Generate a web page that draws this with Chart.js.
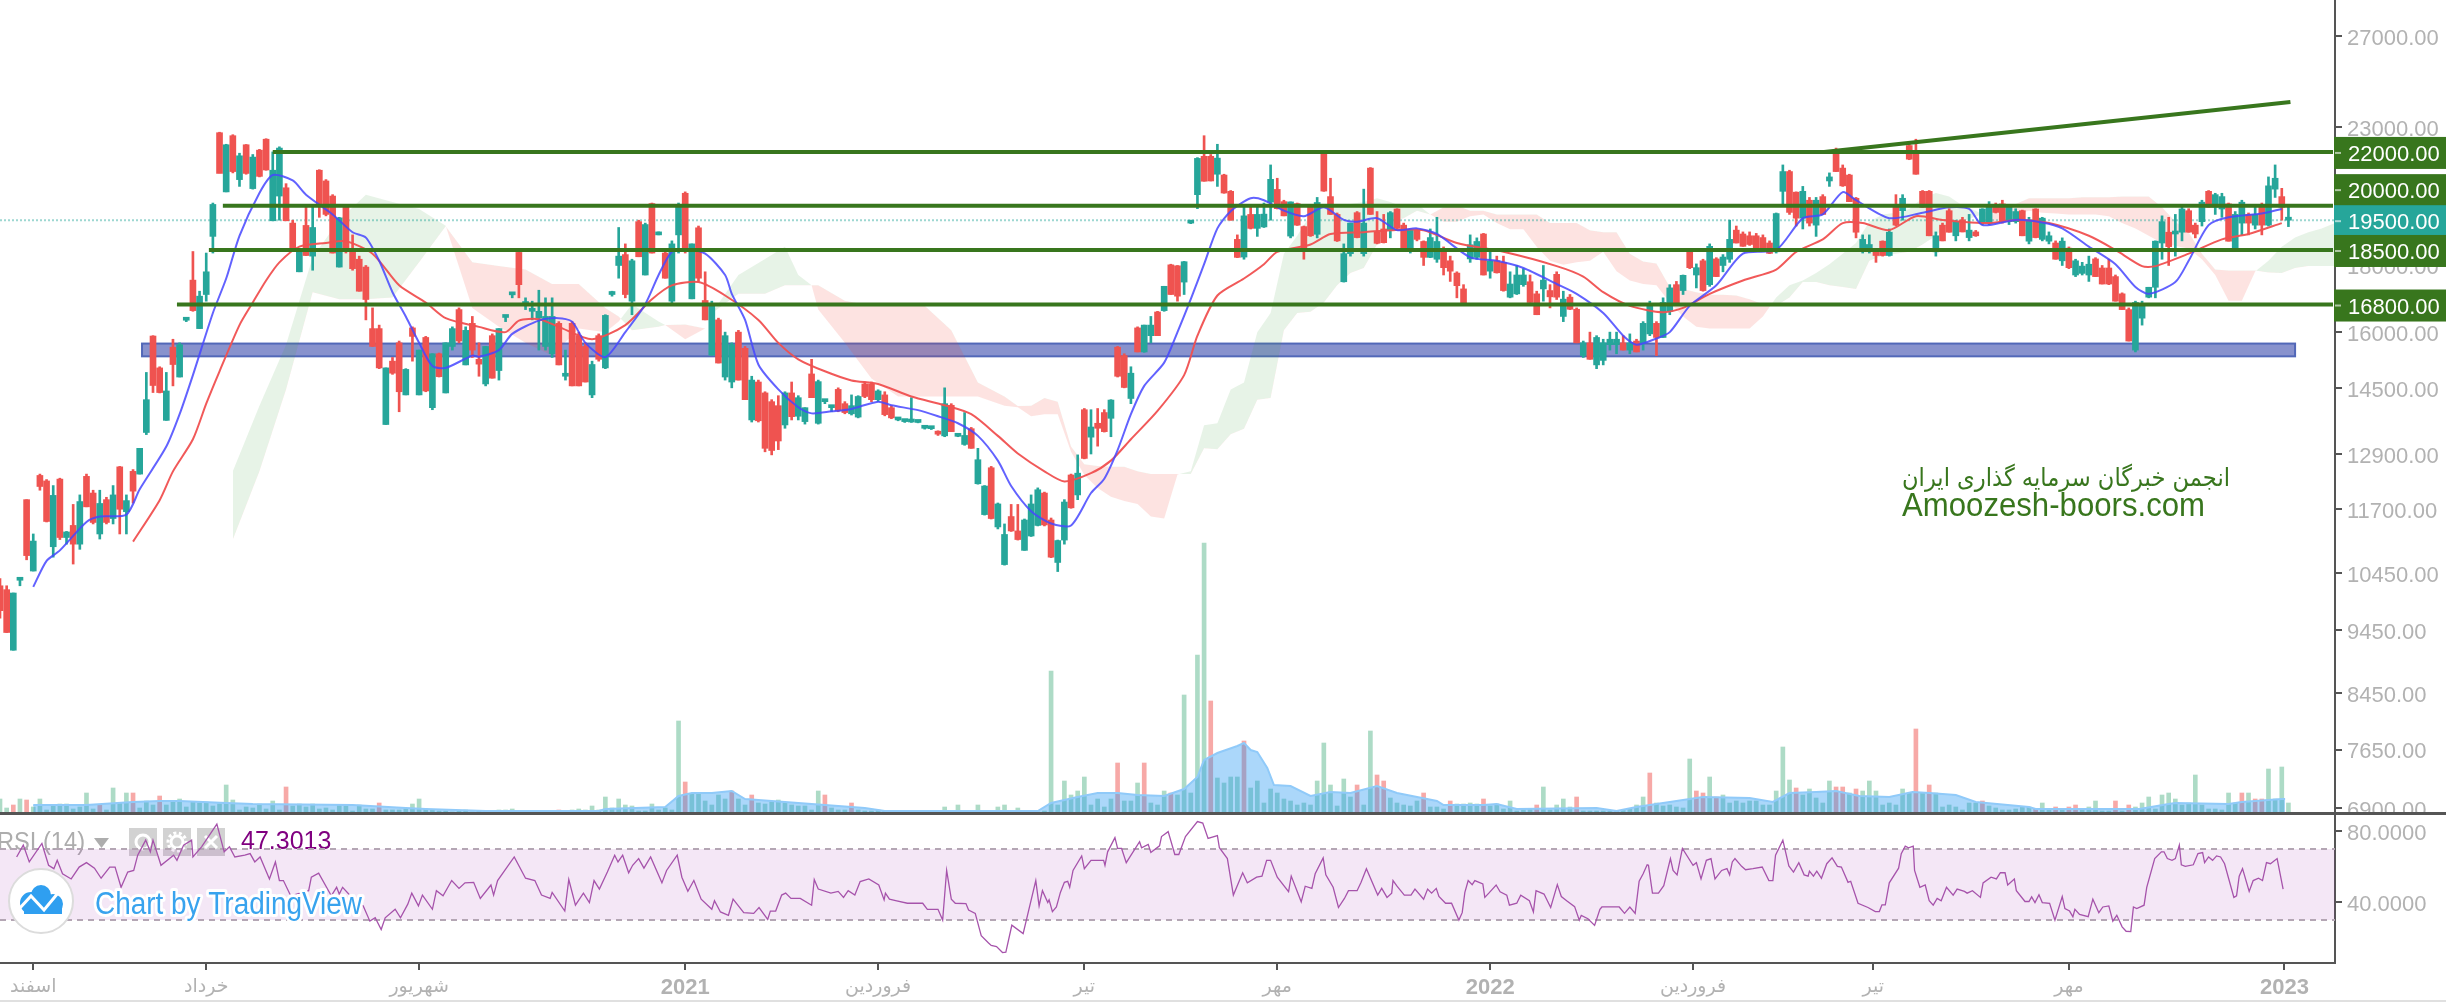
<!DOCTYPE html>
<html>
<head>
<meta charset="utf-8">
<style>
  html, body { margin: 0; padding: 0; background: #fff; overflow: hidden; }
  #wrap { width: 2446px; height: 1002px; position: relative; }
  canvas { display: block; }
</style>
<script src="https://cdn.jsdelivr.net/npm/chart.js@4"></script>
</head>
<body>
<div id="wrap"><canvas id="chart" width="2446" height="1002"></canvas></div>
<script>
// open, high, low, close per bar
const candles = [
[10220,10350,9650,9780],[10150,10220,9410,9410],[9120,10090,9120,10090],[10320,10360,10220,10360],[11900,11900,10700,10780],
[10490,11200,10490,11060],[12420,12450,12100,12180],[12300,12330,11440,11450],[10950,12200,10750,11990],[12340,12360,11090,11130],
[11130,11250,11000,11240],[11370,11800,10620,11000],[11000,12000,10900,11860],[12400,12450,11750,11750],[12040,12100,11400,11430],
[11200,12100,11100,11820],[11900,11950,11400,11430],[11510,12200,11400,12000],[12610,12620,11200,11700],[11650,12000,11200,11880],
[12510,12550,11830,12080],[12450,13030,12450,13030],[13400,14900,13350,14200],[15890,15900,14380,14560],[15020,15050,14370,14380],
[13690,14900,13690,14420],[15580,15800,14550,15110],[14780,15700,14780,15650],[16340,16380,16300,16380],[17540,18450,16600,16620],
[16100,17200,16100,17050],[17100,18400,16900,17800],[18950,20100,18400,20050],[22760,22780,21200,21180],[20500,22300,20500,22280],
[22640,22680,21200,21250],[20950,21950,20700,21850],[22280,22290,21150,21180],[20620,21900,20600,21800],[22070,22100,21050,21070],
[22500,22520,21300,21310],[19480,22000,19480,21300],[20350,22200,19500,22150],[20650,20800,19480,19480],[19400,19500,18500,18530],
[17800,18550,17800,18550],[19320,20000,18320,18320],[18300,20000,17850,19250],[21300,21320,19600,20050],[20900,20950,19650,19700],
[20350,20400,18400,18400],[17950,19600,17950,19580],[19950,20000,18400,18500],[18550,19000,17850,17900],[18200,18300,17200,17200],
[17950,18000,16350,16950],[16100,16700,15600,15600],[16100,16200,15000,15020],[13590,15020,13590,15020],[15200,15300,14850,14880],
[15700,15750,13900,14400],[14320,15000,14320,14980],[16120,16150,15200,15880],[14320,15500,14320,15500],[15850,15880,14400,14420],
[14000,15400,13950,15400],[15400,15420,14780,14790],[14370,15700,14370,15700],[15600,16150,15500,16100],[16650,16700,15700,15750],
[15100,16150,15100,16050],[16250,16450,15300,15500],[15250,15700,14800,15120],[14600,15600,14550,15600],[15900,15950,14750,14750],
[14950,16100,14700,16100],[16420,16460,16300,16460],[17090,17100,17000,17100],[18420,18500,17000,17400],[16800,17000,16650,16850],
[16600,16900,16350,16650],[16400,17230,15500,16600],[15600,17000,15500,16450],[15400,17000,15300,16450],[16250,16300,15100,15100],
[14800,15500,14700,14850],[16250,16300,14550,14550],[15900,16000,14550,14550],[15600,15700,14650,14650],[14320,15200,14250,15110],
[15900,15950,15200,15250],[15020,16500,15000,16480],[17100,17200,17050,17150],[18000,19250,17600,18300],[18350,18700,17000,17100],
[16900,18200,16500,18150],[19450,19500,18280,18280],[17700,19400,17700,19350],[20080,20100,18400,18400],[19000,19100,19000,19050],
[18400,18500,17600,17600],[16900,18800,16850,18700],[19000,20100,18400,20000],[20450,20500,18400,18500],[16970,18700,16970,18700],
[19240,19300,17500,17600],[16920,17800,16350,16350],[15360,16900,15360,16780],[16350,16400,15150,15150],[14780,16000,14700,15900],
[14650,15700,14500,15650],[16000,16050,14700,14700],[15550,15600,14200,14200],[13700,14800,13650,14700],[14650,14700,13650,13680],
[14370,14400,12950,13030],[14150,14200,12880,12980],[14050,14300,13000,13200],[13580,14400,13500,14370],[14370,14650,13700,13780],
[13790,14300,13700,14250],[13660,14000,13600,14000],[14860,15250,14250,14250],[13620,14700,13600,14660],[14150,14200,14100,14180],
[14000,14060,13900,14050],[14460,14500,13900,13930],[14100,14150,13850,13880],[13850,14320,13820,14050],[13770,14300,13750,14280],
[14600,14650,14250,14280],[14600,14650,14150,14200],[14200,14450,14150,14420],[14320,14400,13800,13830],[14000,14050,13730,13750],
[13700,13750,13680,13730],[13660,13700,13640,13690],[13650,14250,13640,13680],[13640,13680,13630,13670],[13500,13530,13480,13520],
[13490,13520,13470,13510],[13400,13440,13330,13360],[13320,14500,13300,14100],[14060,14100,13420,13420],[13310,13350,13300,13340],
[13120,13880,13100,13330],[13490,13520,13030,13030],[12240,13030,12230,12770],[11590,12200,11580,12190],[12590,12620,11500,11510],
[11340,11830,11300,11810],[10610,11400,10600,11190],[11550,11800,11250,11260],[11260,11800,11080,11090],[10880,11500,10880,11480],
[11160,12000,11150,11810],[11370,12150,11360,12110],[12040,12060,11360,11380],[11480,11520,10740,10750],[10650,11080,10480,11070],
[11080,11900,11000,11850],[12430,12450,11720,11730],[12000,12880,11900,12470],[13950,13980,12790,12800],[13290,13950,12900,13530],
[13620,13980,13080,13500],[13880,13950,13410,13420],[13740,14200,13300,14190],[15580,15600,14780,14800],[15350,15400,14500,14510],
[14230,15050,14100,14880],[16120,16150,15450,15450],[15450,16200,15440,16200],[15900,16450,15700,16200],[16580,16600,15900,15900],
[16620,17350,16600,17350],[18020,18040,17100,17100],[17990,18000,16900,17050],[17480,18130,17100,18120],[19400,19480,19380,19450],
[20400,21780,19900,21750],[21830,22640,20890,20890],[21830,21900,20900,20900],[21150,22300,20700,21760],[21120,21150,20450,20460],
[20520,20550,19500,19500],[18850,19000,18250,18260],[18270,20000,18200,19650],[19700,19950,19200,19220],[19220,20000,18950,19700],
[19270,20100,19250,19710],[20130,21500,19500,20960],[20590,21000,19890,19900],[20150,20200,19650,19650],[18960,20140,18900,20140],
[20080,20100,19320,19330],[19280,19300,18200,18450],[19950,20000,18950,18970],[19020,20300,18900,20120],[22000,22050,20520,20530],
[20330,21000,19700,19700],[19700,19750,18780,18800],[17490,18700,17480,18380],[18380,19400,18300,19400],[19760,19800,18900,18910],
[18380,20600,18300,19400],[21380,21400,19700,19700],[19100,19800,18700,18720],[19200,19700,18730,18740],[19150,19800,18900,19760],
[19890,19900,19200,19220],[19330,19400,18550,18560],[18500,19200,18400,19160],[19160,19200,18800,18850],[18780,18800,18000,18260],
[18260,19200,18250,18910],[18200,19600,18100,18780],[18500,18600,17700,17930],[18150,18300,17500,17820],[17760,17800,17000,17370],
[17270,17400,16830,16840],[18210,19000,18100,18670],[18260,18900,18200,18780],[19030,19050,17700,17700],[17820,18450,17600,18150],
[18150,18300,17760,17770],[18100,18300,17200,17220],[17020,17800,17000,17420],[17120,18000,17100,17700],[17400,17900,17350,17700],
[17490,17700,16860,16860],[17120,17200,16500,16500],[17270,18000,16900,17540],[17220,17400,16700,17030],[17720,17800,16950,17020],
[16450,17200,16300,16960],[17020,17100,16650,16660],[16660,16700,15700,15700],[15350,15750,15300,15700],[15700,16000,15250,15250],
[15100,15900,15000,15850],[15220,15800,15100,15700],[15650,16000,15500,15800],[15650,16000,15400,15800],[15700,15900,15500,15500],
[15500,15950,15400,15700],[15750,15800,15450,15450],[15700,16300,15500,16250],[15950,16900,15900,16800],[16250,16300,15350,15850],
[15850,17000,15850,16860],[16600,17400,16500,17300],[17400,17500,16800,16800],[17220,17700,17100,17690],[18520,18550,17900,17930],
[17700,18050,17300,17930],[18150,18200,17200,17220],[17400,18700,17350,18620],[18210,18250,17650,17650],[18000,18350,17800,18270],
[18200,19500,18100,18850],[19160,19300,18730,18730],[19030,19100,18620,18620],[18970,19100,18650,18680],[18970,19050,18500,18500],
[18910,19000,18550,18560],[18730,18800,18380,18390],[18440,19750,18400,19730],[20520,21500,20000,21250],[21250,21300,19700,19770],
[20490,20500,19300,19570],[19570,20700,19200,20520],[20200,20300,19300,19400],[19330,20300,18950,20200],[20330,20400,19700,19700],
[20900,21200,20700,21050],[22090,22150,21250,21250],[21380,21500,20700,20720],[21120,21150,20150,20150],[20270,20300,18900,19090],
[18500,19000,18400,18850],[18450,19000,18400,18680],[18440,18500,18100,18320],[18790,18800,18300,18320],[18320,19200,18300,19090],
[20010,20400,19300,19330],[19830,20400,19500,20270],[22250,22350,21700,21720],[22000,22500,21150,21150],[20520,20550,19950,19950],
[20520,20550,18970,18970],[18440,19100,18300,18970],[19330,19400,18800,18800],[19830,19900,19090,19090],[18970,19500,18800,19450],
[19510,19600,19100,19100],[18910,19700,18800,19160],[19100,19150,18950,18970],[19400,19900,19350,19890],[19400,20150,19350,20010],
[20010,20100,19750,19770],[20070,20200,19400,19450],[19450,20000,19350,19950],[19450,19900,19400,19800],[19830,19850,18970,18970],
[18790,19600,18700,19510],[19890,19900,18900,18910],[18850,19600,18800,19570],[18790,19100,18700,18970],[18730,18800,18200,18200],
[18150,18900,18000,18790],[18560,18600,17900,17930],[17700,18200,17650,18150],[17750,18100,17700,17980],[17700,18300,17500,18040],
[18210,18250,17650,17650],[17920,18000,17420,17420],[17920,18200,17400,17420],[17650,17700,16900,16900],[17120,17150,16650,16650],
[16650,16700,15750,15750],[15500,16900,15450,16860],[16400,16900,16200,16760],[17020,17320,17000,17320],[17320,18800,17000,18790],
[18730,19650,18200,19450],[19090,19600,18000,18610],[19030,19700,18300,19090],[19090,20000,18800,19890],[19830,19900,19090,19090],
[19330,19400,18900,19030],[19450,20200,19300,20130],[20520,20550,19950,19950],[19950,20450,19700,20400],[19890,20450,19600,20330],
[20070,20100,18790,18790],[18560,19800,18500,19700],[19400,20200,19000,20130],[19700,19750,19000,19400],[19330,20000,19200,19700],
[20010,20100,19000,19330],[19330,21050,19300,20720],[20600,21500,20300,21000],[20330,20630,19500,19950],[19500,19950,19280,19520]
];

const volumes = [14,5,8,14,13,6,14,3,7,9,9,4,6,20,4,8,3,25,10,20,20,5,12,8,17,8,12,14,6,11,10,11,7,9,28,13,3,6,5,9,4,12,3,26,7,9,6,9,4,5,3,8,7,2,8,4,4,10,3,3,3,4,9,14,4,3,2,2,1,2,3,1,2,1,2,3,3,4,2,1,1,1,1,1,3,1,3,4,3,7,3,16,5,14,8,7,2,2,9,3,5,3,92,31,19,20,12,8,18,14,22,14,8,18,10,9,11,13,10,8,7,7,3,22,18,5,3,3,10,3,2,2,3,2,1,2,1,1,1,1,1,1,6,1,8,1,1,8,2,1,6,8,1,5,1,1,1,2,142,8,32,18,22,36,8,14,6,14,50,12,12,30,50,10,8,22,20,18,118,20,158,270,112,35,30,36,36,72,25,32,10,24,20,14,12,8,10,8,32,70,28,7,34,16,28,8,82,38,32,15,10,8,7,12,20,6,6,4,12,9,9,10,9,14,7,9,4,12,2,3,4,8,26,3,8,14,6,16,2,2,2,2,2,2,3,4,8,16,40,10,7,8,6,5,54,22,20,36,16,18,10,12,10,12,12,8,8,22,66,33,25,18,24,15,10,32,26,26,20,24,22,32,22,8,10,8,24,20,84,20,28,20,6,8,6,3,10,10,12,7,5,3,3,4,6,6,4,10,3,6,3,6,8,3,6,12,2,2,12,2,8,6,10,16,4,18,20,14,8,10,38,8,4,4,3,20,10,20,20,14,14,44,14,46,10];
const volumeRedBars = [2,4,15,20,24,43,57,84,103,110,113,124,128,168,172,176,182,187,204,207,208,214,218,223,231,237,248,255,256,258,270,276,277,279,288,290,298,306,309,311,312,318,320,337,339,340];
const volumeAvgPos = [5,13,20,24,27,34,38,53,61,64,73,90,91,100,102,104,107,110,112,120,124,130,133,156,158,162,165,168,171,175,178,180,181,183,186,187,188,189,190.5,191.5,194,197,200,203,207,210,216,217,223,225,228,240,243,246,249,253,256,263,266.5,269,273,276,279.5,284,287.5,290,294,297,305,306,321.6,326,327,335,337,343,343.5];
const volumeAvg = [8,8,11,12,12,10,9,8,5,4,2,2,4,6,17,20,20,22,14,10,8,5,2,2,10,16,20,20,18,17,24,36,53,60,67,70,63,61,45,28,27,17,21,20,27,20,12,8,8,9,4,5,2,6,9,13,16,15,11,20,21,22,17,16,21,20,18,11,6,4,4,9,10,9,11,14,14];

const maFastPos = [5,7,9,13,15,19,21,25,27,29,32,34,36,39,41,44,46,50,53,55,57,59,61,63,65,67,71,72,75,77,81,84,86,88,91,94,97,99,101,103,106,109,110,112,114,117,120,122,125,128,132,134,138,141,144,147,150,152,155,158,161,164,166,168,170,172,175,177,179,181,183,185,188,190,193,196,199,202,204,207,210,213,216,221,225,229,234,237,241,244,246,249,251,254,258,262,267,271,274,277,279,284,289,293,296,298,303,307,310,314,318,321,323,327,329,332,335,340,343];
const maFast = [10200,10680,10880,11440,11550,11590,12120,13070,13840,14830,16550,17590,18970,20460,21120,20920,20400,19700,19090,18910,18150,17170,16450,15700,15070,15020,15350,15320,15500,15950,16330,16400,16300,15700,15310,16000,16810,17700,18440,18520,18380,17700,17120,16350,15110,14460,14010,13860,13910,13970,14150,14060,13940,13790,13620,13320,12750,12190,11660,11410,11370,12040,12350,12990,13840,14550,15160,16000,16960,18040,19220,19810,20270,20200,19830,19640,19950,19510,19450,19570,19160,19220,19030,18260,18150,17920,17420,17120,16550,15900,15650,15820,16000,16760,17380,18380,18500,19570,19700,20490,20200,19570,19760,19950,19890,19330,19510,19420,19220,18610,18040,17330,17120,17480,18150,19330,19600,19730,19890];
const maSlowPos = [20,24,26,29,31,33,36,38,40,42,45,49,52,56,60,64,67,72,76,78,81,84,89,94,98,101,105,109,114,117,120,124,128,132,137,142,146,150,153,157,160,164,167,170,174,178,180,183,187,190,192,197,200,205,209,214,219,226,234,238,241,245,250,253,257,262,267,270,274,277,280,284,288,292,299,303,308,314,318,322,324,329,334,338,343];
const maSlow = [11050,11890,12510,13240,14100,14930,16200,16860,17530,18100,18610,18730,18790,18380,17380,16860,16400,16150,16000,16330,16370,16150,15800,16200,16960,17380,17480,17070,16350,15700,15250,14930,14690,14600,14280,14060,13840,13320,12910,12510,12290,12470,12750,13240,13920,14830,15900,17070,17590,18040,18440,18680,19030,19090,19160,19160,18730,18440,17980,17650,17170,16760,16570,16700,17120,17530,17870,18440,18850,19400,19400,19160,19640,19510,19400,19510,19400,18970,18500,17980,17980,18380,18850,19030,19400];

// Ichimoku cloud, green where spanA is above spanB
const cloudPos = [35,39,43,47,51,55,59,63,67,71,75,79,83,87,91,93,95,99,100,103,106,107,111,115,118,120,122,123,127,131,135,139,143,147,151,153,155,157,159,161,163,165,167,169,171,173,175,177,179,181,183,185,187,189,191,193,195,197,199,201,203,205,207,209,211,213,215,217,219,221,223,225,227,229,231,233,235,237,239,241,243,245,247,249,251,253,255,257,259,261,263,265,267,269,271,273,275,277,279,281,283,285,287,289,291,293,295,297,298,299,301,303,305,307,309,311,313,315,317,319,321,323,325,327,329,331,333,335,337,339,341,343,345,347,349,351];
const cloudSpanA = [12510,14050,15650,18260,19510,20400,20140,19890,19310,16700,16150,15700,15350,16100,16000,16300,16810,16300,16200,15800,16100,16550,17700,18210,18610,17700,17380,16650,15700,14740,14280,14280,14280,14280,14050,14010,13790,13840,13840,12950,12430,12150,11960,11870,11810,11550,11510,12440,12510,13570,13620,14460,14640,16000,16550,18380,18970,19700,20010,20070,20070,20140,20270,20140,19950,20070,19700,19450,19450,19640,19700,19400,19190,19190,18610,18150,18020,18100,18150,18440,17820,17530,17420,17380,16860,16450,16150,16100,16100,16100,16100,16450,17010,17380,17530,17760,18040,18380,18730,19450,19700,19760,19890,20270,20460,20330,20010,19830,19700,19330,19450,19700,19830,19760,19730,19700,19700,19700,19640,19400,19220,18970,18730,18630,18550,18200,17700,16910,16910,17810,18150,18610,18910,19090,19220,19400];
const cloudSpanB = [11090,12510,14460,17170,16960,16960,17010,18100,19290,18100,17980,17870,17420,17420,16700,16450,16050,16150,16200,16220,16100,16540,17120,17120,17380,17380,17380,17380,16910,16760,16760,16760,16050,14640,14280,14040,14050,14240,14150,13070,12670,12630,12610,12610,12510,12450,12450,12450,12450,13030,13010,13360,13490,14200,14240,16050,16550,16590,16860,17380,17760,17920,18680,19450,19570,19830,19700,19950,20010,19830,19830,19700,19700,19700,19700,19400,19400,19400,19160,19090,19090,18380,18130,18060,17330,17270,17170,17090,17090,17070,16960,16810,16760,17010,17480,17480,17380,17330,17270,18150,18320,18380,18440,18680,18970,19400,19450,19640,19700,19890,19950,20070,20270,20270,20270,20270,20310,20310,20310,20330,20330,20330,19950,19450,19090,18380,17870,17840,17840,17840,17780,17760,17920,17980,17980,17980];

const rsiPos = [2.5,3.5,4.4,6.3,7.3,8.1,8.6,9.4,10.7,11.9,13,14.2,15.2,16.5,17.3,18.2,19.2,20.1,20.7,21.9,22.6,23,24.2,26.1,26.6,27.6,28.8,29,30.3,32.6,33.7,34.5,35.3,36.8,37.6,38.3,39.1,40.5,41.4,42,42.6,43.7,46.4,46.8,47.9,49.8,50.6,51,51.5,52.9,54.6,55.6,56.4,57.3,57.9,59.4,60.2,61.3,61.9,62.9,63.5,65,65.6,66.6,67.9,69,69.9,71.2,72.2,73.8,74.2,74.8,77.3,79,80.4,81.4,82.7,83,84.9,85.5,86.5,87.7,88.6,89.3,90.1,91.3,92.4,92.9,93.6,94.5,95.1,96,96.8,97.8,99.5,100.2,101.8,102.5,103.4,104.3,105.4,107,107.4,108.3,109.5,110.2,111.8,113.3,114.1,115.4,115.8,116.6,117.5,118.1,118.9,120.3,122,122.4,123,124.9,126,126.8,127.5,128.5,129.3,130.6,132.1,132.9,133.1,133.7,134.8,136.4,138.7,139.4,141,141.7,142.3,143,143.6,145.2,145.6,146.6,147.5,148.6,149,149.8,150.7,151.2,152.1,153.8,155.7,156.2,156.7,157.5,157.7,158.2,158.8,159.4,160,160.5,160.8,161.3,162.6,163,164,165.9,166.1,166.5,167.6,168,168.6,169.3,171.3,171.6,172.6,173,174.3,174.6,175.6,176.6,177.2,178.2,180,180.8,181.6,183,183.3,184.5,185.4,186.8,187.5,188.9,189.7,190.4,191,192,193.7,194.1,195.6,196.2,197.2,197.7,198.9,199.3,200.4,201.2,202.1,202.7,204,204.6,205.4,207.1,207.7,208.5,209.2,209.4,210,211.1,212.1,212.7,214,214.6,215.2,215.9,216.3,217.3,218.2,219.3,219.8,220.2,220.7,221.3,221.7,222.9,223.2,223.8,224.9,225.5,226.5,226.9,228,228.6,229.9,230.5,230.9,232.1,233.1,234.1,234.7,235.5,236.7,237.4,237.7,238.7,239.7,240.5,240.8,243.4,244.2,245,245.8,246.4,247,247.6,247.8,248.4,249.3,250.1,251.1,251.5,252.1,252.9,254.5,255,255.7,256.5,257.2,257.8,258.8,259.6,260,260.4,260.8,261.8,262.4,263.5,264.9,265.9,266.5,266.9,268,268.9,269.6,270.4,271.2,271.8,272,272.6,273.1,273.8,274.6,275.4,276.2,276.8,277.8,278.2,279.3,280.8,281.9,282.5,282.9,283.4,284,285.4,285.8,286.4,286.9,287.6,287.8,288.6,289.4,290,290.6,291.2,291.8,292.6,293.6,294.2,295.3,295.7,296.5,297.7,298.1,299.3,300.1,300.7,301.4,301.8,302.8,303.1,304.4,305,305.4,305.9,306.5,307,308.1,308.9,310,310.4,311.1,311.6,311.9,312.6,313.9,314.6,315.5,316.1,317,317.6,318.2,319,319.6,320.3,320.7,321.2,322.3,322.7,323.9,324.9,325.3,325.8,326.5,327,327.6,327.9,328.5,329.7,330.4,331.1,331.4,332,332.6,333.2,333.8,334.4,335.8,336.2,336.6,337.1,338.1,338.7,339.5,340.1,340.7,341.3,342.3,343.2];
const rsiValues = [65.5,72.2,62.7,73.1,60.8,58.9,63.6,56,53.1,59.8,62.3,59.2,53.5,59.8,59.8,48.4,57,57.9,66.5,75,68.4,75,60.8,66.5,63.6,72.2,75,65.5,71.2,84,68.4,71.2,65.5,66.5,67.4,62.7,65.5,53.1,62.7,52.2,52.2,43.6,46.5,54.1,56.4,43.6,48.4,44.6,48.4,42.7,37.9,29.3,31.2,24.6,31.2,36,31.2,38.9,45.1,37.9,44,36,46.5,43.6,52.2,47.8,50.9,51.2,42.1,49.7,44,52.2,65.5,53.5,52.2,44,42.1,45.5,35,52.8,38.3,45.1,39.8,52.2,47.4,57,66.5,62.7,66.5,56.6,60.8,64.6,59.2,65.5,50.9,57.9,66.5,54.1,46.1,52.2,41.7,36,40.8,34.5,32.6,41.7,34.1,33.7,37,30.3,35,35,44,45.1,42.1,42.1,38.3,52.8,47.4,45.1,46.1,42.7,46.5,44,51.6,53.1,49.7,41.3,45.1,41.7,40.8,39.4,39.4,36,36,29.9,57.9,41.7,39.4,39.2,35.6,33.7,21.1,17,15.6,15,11.6,11.8,27,22.3,52.2,37.9,46.5,39.8,41.3,34.7,37.3,45.5,51.2,51.8,48.4,57.9,66.1,58.9,63.6,63.6,60.8,68.4,76.4,70.3,70.3,62.3,74.1,70.7,72.6,68,71.8,77,79.8,66.9,66.9,77,85.5,84.6,76,77.5,70.7,64.6,44,56.6,50.9,54.1,54.7,63.6,63.6,54.1,45.9,54.7,40.2,49,47.8,56,65,55.4,48.4,37,42.1,46.5,46.5,51.2,58.9,44,47.8,42.7,45.1,52.2,49,44,44,47.4,41.7,47.4,45.1,47.8,43.2,39.4,39.4,29.9,34.1,45.5,52.2,49.9,52.2,50.3,42.7,45.1,49.7,45.9,44,38.3,39.4,44,40.8,34.5,46.5,44.6,37,49.9,43.2,40.8,37.5,29.9,32.6,30.7,26.9,36,37.3,37.3,33.7,37.3,33.7,51.8,56,61.1,60.8,45.1,45.1,49.3,64.6,57.9,55.4,70.3,60.8,62.3,53.1,63.6,64.6,53.1,57.9,58.9,55.4,62.7,64.6,60.2,58.3,58.9,59.8,52.2,52.2,66.5,75,60.4,57,62.3,55.4,54.7,57.5,54.7,57.5,53.5,61.7,65,60.2,59.8,51.2,51.8,39.4,37,34.7,34.7,38.5,38.5,50.9,59.2,67.4,71.6,70.7,71.6,57.9,48.4,49.7,40.8,38.3,42.1,40.8,48.4,44,47.4,46.1,45.1,46.5,42.7,50.9,54.1,53.1,56.6,56.6,49.7,53.1,46.5,40.4,40.4,43,39.8,44.2,39.8,39.4,29.9,43.2,36.4,35,31.8,36,33.1,31.8,41.7,34.1,37.3,37.9,29.3,32.6,26.1,23.6,23.4,37.3,36.4,38.3,48.4,64.6,68.4,68.4,64.6,63.6,64.6,72.2,61.1,60.2,61.1,67.4,68,62.3,65.5,63.6,66.1,65.5,61.7,42.7,43.6,54.7,58.9,46.1,52.2,53.5,52.2,62.3,61.7,64.6,47.3];

const priceTicks = [27000,23000,18000,16000,14500,12900,11700,10450,9450,8450,7650,6900];
const rsiTicks = [80,40];
const xTickPos = [5,31,63,103,132,163,192,224,254.5,281.6,311,343.4];
const xTickLabels = ['اسفند','خرداد','شهریور','2021','فروردین','تیر','مهر','2022','فروردین','تیر','مهر','2023'];

const levelPrices = [22000,20000,18500,16800];
const levelStarts = [41,33.5,31.4,26.6];
const levelEnd = 350.7;
const boxLabels = ['22000.00','20000.00','19500.00','18500.00','16800.00'];
const boxPrices = [22000,20600,19500,18500,16800];
const lastPrice = 19500;
const trendPos = [274.2,344.3];
const trendPrices = [22000,24030];
const zonePrices = [15330,15680];
const zonePos = [21.35,345];
const lastIndex = 351;

const GREEN = '#38761d';
const TEAL = '#26a69a';
const RED = '#ef5350';
const GREY = '#b2b2b2';
const FONT = '"Liberation Sans", Arial, "DejaVu Sans", sans-serif';

function pairs(xs, ys) {
  return xs.map((x, i) => ({ x: x, y: ys[i] }));
}

function lineSet(data, color, width, extra) {
  return Object.assign({
    type: 'line', data: data, borderColor: color, borderWidth: width,
    pointRadius: 0, fill: false, tension: 0, yAxisID: 'y', xAxisID: 'x'
  }, extra || {});
}

// stop the outer tick labels from pushing the plot area in
function fitAxis(size) {
  return s => {
    if (s.isHorizontal()) s.height = size; else s.width = size;
    s.paddingTop = s.paddingBottom = s.paddingLeft = s.paddingRight = 0;
  };
}

const isUp = c => c[3] >= c[0];
const datasets = [];

// level lines and trend line on top of the candles
levelPrices.forEach((p, i) => {
  datasets.push(lineSet([{ x: levelStarts[i], y: p }, { x: levelEnd, y: p }], GREEN, 4, { order: 1 }));
});
datasets.push(lineSet(pairs(trendPos, trendPrices), GREEN, 4, { order: 1 }));
datasets.push(lineSet([{ x: 0, y: lastPrice }, { x: lastIndex, y: lastPrice }], 'rgba(38,166,154,0.45)', 2, { order: 6, borderDash: [2, 2] }));

datasets.push(lineSet(pairs(maFastPos, maFast), 'rgba(70,70,255,0.85)', 2, { order: 3, tension: 0.25 }));
datasets.push(lineSet(pairs(maSlowPos, maSlow), 'rgba(240,80,80,0.95)', 2, { order: 3, tension: 0.25 }));

// candle bodies, wicks
datasets.push({
  type: 'bar', order: 4, grouped: false, barThickness: 6, minBarLength: 3,
  data: candles.map((c, i) => ({ x: i, y: [c[0], c[3]] })),
  backgroundColor: candles.map(c => isUp(c) ? TEAL : RED),
  yAxisID: 'y', xAxisID: 'x'
});
datasets.push({
  type: 'bar', order: 5, grouped: false, barThickness: 2,
  data: candles.map((c, i) => ({ x: i, y: [c[2], c[1]] })),
  backgroundColor: candles.map(c => isUp(c) ? TEAL : RED),
  yAxisID: 'y', xAxisID: 'x'
});

// cloud
datasets.push(lineSet(pairs(cloudPos, cloudSpanA), 'rgba(0,0,0,0)', 0, {
  order: 8,
  fill: { target: '+1', above: 'rgba(67,160,71,0.13)', below: 'rgba(244,67,54,0.15)' }
}));
datasets.push(lineSet(pairs(cloudPos, cloudSpanB), 'rgba(0,0,0,0)', 0, { order: 8 }));

// volume
datasets.push(lineSet(pairs(volumeAvgPos, volumeAvg), '#90caf9', 2, {
  order: 9, yAxisID: 'vol', fill: 'origin', backgroundColor: 'rgba(33,150,243,0.38)'
}));
datasets.push({
  type: 'bar', order: 10, grouped: false, barThickness: 4,
  data: volumes.map((v, i) => ({ x: i, y: v })),
  backgroundColor: volumes.map((v, i) => volumeRedBars.includes(i) ? 'rgba(239,83,80,0.5)' : 'rgba(60,170,120,0.42)'),
  yAxisID: 'vol', xAxisID: 'x'
});

// rsi
datasets.push(lineSet([{ x: 0, y: 70 }, { x: lastIndex, y: 70 }], 'rgba(0,0,0,0)', 0, {
  order: 12, yAxisID: 'rsi', fill: { target: '+1', above: 'rgba(156,39,176,0.11)', below: 'rgba(156,39,176,0.11)' }
}));
datasets.push(lineSet([{ x: 0, y: 30 }, { x: lastIndex, y: 30 }], 'rgba(0,0,0,0)', 0, { order: 12, yAxisID: 'rsi' }));
datasets.push(lineSet([{ x: 0, y: 70 }, { x: lastIndex, y: 70 }], '#b4a6b4', 2, { order: 11, yAxisID: 'rsi', borderDash: [6, 5] }));
datasets.push(lineSet([{ x: 0, y: 30 }, { x: lastIndex, y: 30 }], '#b4a6b4', 2, { order: 11, yAxisID: 'rsi', borderDash: [6, 5] }));
datasets.push(lineSet(pairs(rsiPos, rsiValues), '#a653ab', 1.3, { order: 2, yAxisID: 'rsi' }));

// zone rectangle, pane icons under the series
const underlay = {
  id: 'underlay',
  beforeDatasetsDraw(chart) {
    const c = chart.ctx, x = chart.scales.x, y = chart.scales.y;
    const left = x.getPixelForValue(zonePos[0]), right = x.getPixelForValue(zonePos[1]);
    const top = y.getPixelForValue(zonePrices[1]), bottom = y.getPixelForValue(zonePrices[0]);
    c.save();
    c.fillStyle = 'rgba(57,73,171,0.6)';
    c.fillRect(left, top, right - left, bottom - top);
    c.strokeStyle = '#5268b8';
    c.lineWidth = 2;
    c.strokeRect(left, top, right - left, bottom - top);

    c.font = '25px ' + FONT;
    c.textBaseline = 'middle';
    c.fillStyle = '#adadad';
    c.fillText('RSI (14)', -3, 843, 88);
    c.beginPath();
    c.moveTo(94, 838); c.lineTo(109, 838); c.lineTo(101.5, 848); c.closePath();
    c.fill();
    [129, 163, 197].forEach(px => {
      c.fillStyle = '#d2d2d2';
      c.fillRect(px, 828, 28, 28);
    });
    c.strokeStyle = '#fff';
    c.lineWidth = 3;
    c.beginPath(); c.arc(143, 842, 7, 0, Math.PI * 2); c.stroke();
    c.beginPath(); c.arc(177, 842, 6, 0, Math.PI * 2); c.stroke();
    c.setLineDash([3, 2.5]);
    c.beginPath(); c.arc(177, 842, 9, 0, Math.PI * 2); c.stroke();
    c.setLineDash([]);
    c.beginPath();
    c.moveTo(205, 836); c.lineTo(217, 848); c.moveTo(217, 836); c.lineTo(205, 848);
    c.stroke();
    c.fillStyle = '#800080';
    c.fillText('47.3013', 241, 842, 93);
    c.restore();
  }
};

const overlay = {
  id: 'overlay',
  afterDraw(chart) {
    const c = chart.ctx, y = chart.scales.y;
    c.save();

    // pane separator, clip the lowest price label
    c.fillStyle = '#fff';
    c.fillRect(2337, 814, 109, 8);
    c.fillStyle = '#555';
    c.fillRect(0, 812, 2446, 3);
    c.fillStyle = '#e0e0e0';
    c.fillRect(0, 1000, 2446, 2);

    // price label boxes
    c.textBaseline = 'middle';
    boxLabels.forEach((t, i) => {
      const py = y.getPixelForValue(boxPrices[i]) + 1;
      c.fillStyle = i === 2 ? TEAL : GREEN;
      c.fillRect(2334, py - 16, 112, 32);
      c.fillStyle = 'rgba(255,255,255,0.6)';
      c.fillRect(2335, py - 1, 6, 2);
      c.fillStyle = '#fff';
      c.font = '22px ' + FONT;
      c.textAlign = 'left';
      c.fillText(t, 2348, py + 2);
    });

    // watermark
    c.fillStyle = GREEN;
    c.font = '25px "DejaVu Sans", sans-serif';
    c.direction = 'rtl';
    c.textAlign = 'right';
    c.fillText('انجمن خبرگان سرمایه گذاری ایران', 2230, 479, 328);
    c.direction = 'ltr';
    c.textAlign = 'left';
    c.font = '34px ' + FONT;
    c.fillText('Amoozesh-boors.com', 1902, 507, 303);

    // logo
    c.beginPath();
    c.arc(41, 901, 32, 0, Math.PI * 2);
    c.fillStyle = '#fff';
    c.fill();
    c.strokeStyle = '#dcdcdc';
    c.lineWidth = 2;
    c.stroke();
    c.fillStyle = '#2f9ff0';
    c.beginPath();
    c.arc(31, 903, 11, 0, Math.PI * 2);
    c.arc(41, 895, 10, 0, Math.PI * 2);
    c.arc(53, 904, 10, 0, Math.PI * 2);
    c.fill();
    c.fillRect(24, 904, 38, 10);
    c.strokeStyle = '#fff';
    c.lineWidth = 3;
    c.beginPath();
    c.moveTo(19, 909); c.lineTo(31, 896); c.lineTo(44, 910); c.lineTo(58, 893);
    c.stroke();

    c.font = '31px ' + FONT;
    c.lineJoin = 'round';
    c.lineWidth = 6;
    c.strokeStyle = '#fff';
    c.strokeText('Chart by TradingView', 95, 905, 267);
    c.fillStyle = '#38a3ee';
    c.fillText('Chart by TradingView', 95, 905, 267);
    c.restore();
  }
};

new Chart(document.getElementById('chart'), {
  type: 'bar',
  data: { datasets: datasets },
  plugins: [underlay, overlay],
  options: {
    responsive: false,
    animation: false,
    layout: { padding: 0 },
    plugins: { legend: { display: false }, tooltip: { enabled: false } },
    scales: {
      x: {
        type: 'linear', min: 0, max: lastIndex, position: 'bottom', offset: false,
        afterFit: fitAxis(39),
        afterBuildTicks(s) { s.ticks = xTickPos.map(v => ({ value: v })); },
        border: { color: '#555', width: 2 },
        grid: { offset: false, drawOnChartArea: false, color: '#555', lineWidth: 2, tickLength: 7 },
        ticks: {
          autoSkip: false, maxRotation: 0, padding: 5, color: GREY,
          callback: v => xTickLabels[xTickPos.indexOf(v)],
          font: ctx => {
            const label = ctx.tick ? xTickLabels[xTickPos.indexOf(ctx.tick.value)] : '';
            return /^\d/.test(label || '') ? { family: FONT, size: 22, weight: 'bold' } : { family: FONT, size: 19, weight: 'normal' };
          }
        }
      },
      y: {
        type: 'logarithmic', position: 'right', stack: 'pane', stackWeight: 813, min: 6840, max: 28776,
        afterFit: fitAxis(111),
        afterBuildTicks(s) { s.ticks = priceTicks.map(v => ({ value: v })); },
        border: { color: '#555', width: 2 },
        grid: { drawOnChartArea: false, color: '#555', lineWidth: 2, tickLength: 7 },
        ticks: {
          // empty first line nudges the label down to sit like the reference
          autoSkip: false, color: GREY, padding: 5, font: { family: FONT, size: 22, lineHeight: 0.25 },
          callback: v => ['', Number(v).toFixed(2)]
        }
      },
      rsi: {
        type: 'linear', position: 'right', stack: 'pane', stackWeight: 150, min: 5.7, max: 90.3,
        afterFit: fitAxis(111),
        afterBuildTicks(s) { s.ticks = rsiTicks.map(v => ({ value: v })); },
        border: { color: '#555', width: 2 },
        grid: { drawOnChartArea: false, color: '#555', lineWidth: 2, tickLength: 7 },
        ticks: {
          autoSkip: false, color: GREY, padding: 5, font: { family: FONT, size: 22, lineHeight: 0.25 },
          callback: v => ['', Number(v).toFixed(4)]
        }
      },
      // one unit is roughly one pixel of bar height, zero sits on the pane border
      vol: { type: 'linear', position: 'left', display: false, min: -150, max: 813 }
    }
  }
});
</script>
</body>
</html>
